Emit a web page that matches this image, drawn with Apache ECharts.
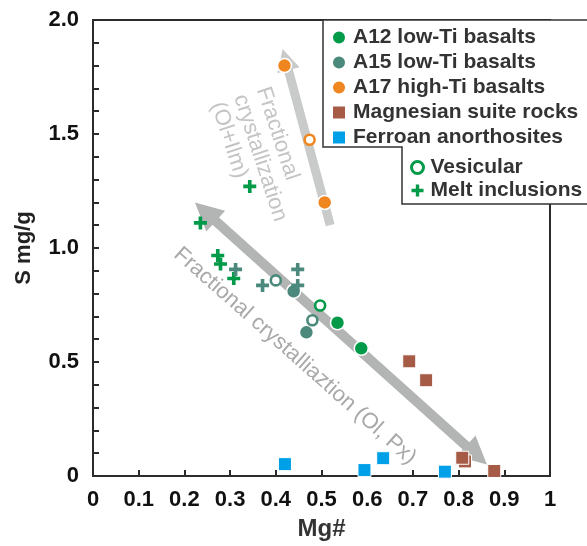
<!DOCTYPE html>
<html>
<head>
<meta charset="utf-8">
<script src="https://cdn.jsdelivr.net/npm/echarts@6/dist/echarts.min.js"></script>
<style>
  html, body { margin: 0; padding: 0; background: #fff; }
  #chart { width: 587px; height: 546px; }
</style>
</head>
<body>
<div id="chart"></div>
<script>
// data: [Mg#, S mg/g]
const a12Basalt = [[0.535, 0.672], [0.587, 0.56]]
const a12Vesicular = [[0.497, 0.748]]
const a12Melt = [[0.343, 1.27], [0.235, 1.11], [0.273, 0.967], [0.279, 0.93], [0.308, 0.866]]
const a15Basalt = [[0.439, 0.81], [0.467, 0.63]]
const a15Vesicular = [[0.40, 0.858], [0.48, 0.683]]
const a15Melt = [[0.312, 0.906], [0.371, 0.836], [0.448, 0.906], [0.448, 0.836]]
const a17Basalt = [[0.419, 1.80], [0.507, 1.20]]
const a17Vesicular = [[0.474, 1.475]]
const magnesian = [[0.692, 0.503], [0.729, 0.42], [0.814, 0.064], [0.808, 0.08], [0.878, 0.022]]
const ferroan = [[0.42, 0.052], [0.635, 0.078], [0.594, 0.026], [0.77, 0.019]]

// trend arrows, tail -> head
const arrowOlPx = [[0.862, 0.05], [0.223, 1.20]]
const arrowOlIlm = [[0.519, 1.10], [0.415, 1.873]]

const xTicks = ['0', '0.1', '0.2', '0.3', '0.4', '0.5', '0.6', '0.7', '0.8', '0.9', '1']
const yTicks = ['0', '0.5', '1.0', '1.5', '2.0']

const GREEN = '#009a48', TEAL = '#4a897b', ORANGE = '#f08620', BROWN = '#a55b46', BLUE = '#00a0e8'
const FONT = "'Liberation Sans', Arial, sans-serif"
const PLUS = 'path://M3.6,0H6.4V3.6H10V6.4H6.4V10H3.6V6.4H0V3.6H3.6Z'

function arrowSeries(pts, color, double, w, headLen, headHalf) {
  return {
    type: 'custom',
    silent: true,
    coordinateSystem: 'cartesian2d',
    encode: { x: [0, 2], y: [1, 3] },
    data: [[pts[0][0], pts[0][1], pts[1][0], pts[1][1]]],
    renderItem: function (params, api) {
      const p0 = api.coord([api.value(0), api.value(1)])
      const p1 = api.coord([api.value(2), api.value(3)])
      const dx = p1[0] - p0[0], dy = p1[1] - p0[1]
      const len = Math.sqrt(dx * dx + dy * dy)
      const u = [dx / len, dy / len], n = [-u[1], u[0]]
      const at = (p, a, b) => [p[0] + u[0] * a + n[0] * b, p[1] + u[1] * a + n[1] * b]
      let points
      if (double) {
        points = [p0, at(p0, headLen, headHalf), at(p0, headLen, w), at(p1, -headLen, w), at(p1, -headLen, headHalf), p1,
          at(p1, -headLen, -headHalf), at(p1, -headLen, -w), at(p0, headLen, -w), at(p0, headLen, -headHalf)]
      } else {
        points = [at(p0, 0, w), at(p1, -headLen, w), at(p1, -headLen, headHalf), p1,
          at(p1, -headLen, -headHalf), at(p1, -headLen, -w), at(p0, 0, -w)]
      }
      return { type: 'polygon', shape: { points: points }, style: { fill: color } }
    }
  }
}

const filled = (c) => ({ color: c, borderColor: '#fff', borderWidth: 1.5, opacity: 1 })
const colored = (arr, c) => arr.map(p => ({ value: p, itemStyle: { color: '#fff', borderColor: c } }))
const coloredPlus = (arr, c) => arr.map(p => ({ value: p, itemStyle: { color: c } }))

const legendText = { fontSize: 21, fontWeight: 'bold', color: '#333', fontFamily: FONT, lineHeight: 20, padding: [0, 0, 0, 2] }

const option = {
  animation: false,
  grid: { left: 93, right: 37, top: 20, bottom: 66, show: true, borderColor: '#2b2b2b', borderWidth: 2 },
  xAxis: {
    type: 'value', min: 0, max: 1, interval: 0.1,
    name: 'Mg#', nameLocation: 'middle', nameGap: 41,
    nameTextStyle: { fontSize: 24, fontWeight: 'bold', color: '#333', fontFamily: FONT },
    axisLine: { show: true, lineStyle: { color: '#2b2b2b', width: 2 } },
    axisTick: { show: true, inside: true, length: 6, lineStyle: { color: '#2b2b2b', width: 2 } },
    splitLine: { show: false },
    axisLabel: {
      margin: 13, fontSize: 22, fontWeight: 'bold', color: '#111', fontFamily: FONT, showMaxLabel: true,
      formatter: v => xTicks[Math.round(v * 10)]
    }
  },
  yAxis: {
    type: 'value', min: 0, max: 2, interval: 0.5,
    name: 'S mg/g', nameLocation: 'middle', nameGap: 58,
    nameTextStyle: { fontSize: 22, fontWeight: 'bold', color: '#222', fontFamily: FONT },
    axisLine: { show: true, lineStyle: { color: '#2b2b2b', width: 2 } },
    axisTick: { show: true, inside: true, length: 6, lineStyle: { color: '#2b2b2b', width: 2 } },
    minorTick: { show: true, splitNumber: 5, length: 6, lineStyle: { color: '#2b2b2b', width: 2 } },
    splitLine: { show: false },
    axisLabel: {
      margin: 14, fontSize: 22, fontWeight: 'bold', color: '#111', fontFamily: FONT,
      formatter: v => yTicks[Math.round(v * 2)]
    }
  },
  legend: [
    {
      data: ['A12 low-Ti basalts', 'A15 low-Ti basalts', 'A17 high-Ti basalts', 'Magnesian suite rocks', 'Ferroan anorthosites'],
      orient: 'vertical', left: 326, top: 22, itemWidth: 14, itemHeight: 14, itemGap: 4,
      selectedMode: false, textStyle: legendText, z: 10
    },
    {
      data: [
        { name: 'Vesicular', itemStyle: { borderWidth: 3 } },
        'Melt inclusions'
      ],
      orient: 'vertical', left: 405, top: 152, itemWidth: 12, itemHeight: 12, itemGap: 2,
      selectedMode: false, textStyle: legendText, z: 10
    }
  ],
  graphic: [
    {
      type: 'polygon', z: 5, silent: true,
      shape: { points: [[323, 20], [600, 20], [600, 204], [402, 204], [402, 147], [323, 147]] },
      style: { fill: '#fff', stroke: '#333', lineWidth: 1.5 }
    },
    {
      type: 'text', x: 274, y: 84, rotation: -72 * Math.PI / 180, z: 1, silent: true,
      style: {
        text: 'Fractional\ncrystallization\n(Ol+Ilm)', fontSize: 22, fontFamily: FONT, fill: '#c4c4c4',
        align: 'left', verticalAlign: 'top', lineHeight: 24
      }
    },
    {
      type: 'text', x: 295, y: 356, rotation: -41.5 * Math.PI / 180, z: 1, silent: true,
      style: {
        text: 'Fractional crystalliaztion (Ol, Px)', fontSize: 22, fontFamily: FONT, fill: '#a9a9a9',
        align: 'center', verticalAlign: 'middle'
      }
    }
  ],
  series: [
    arrowSeries(arrowOlIlm, '#c9caca', false, 4.5, 22, 11.5),
    arrowSeries(arrowOlPx, '#b3b4b4', true, 5, 28, 14),
    { name: 'A12 low-Ti basalts', type: 'scatter', symbol: 'circle', symbolSize: 14, itemStyle: filled(GREEN), data: a12Basalt },
    { name: 'A15 low-Ti basalts', type: 'scatter', symbol: 'circle', symbolSize: 14, itemStyle: filled(TEAL), data: a15Basalt },
    { name: 'A17 high-Ti basalts', type: 'scatter', symbol: 'circle', symbolSize: 14, itemStyle: filled(ORANGE), data: a17Basalt },
    { name: 'Magnesian suite rocks', type: 'scatter', symbol: 'rect', symbolSize: 13, itemStyle: { color: BROWN, borderColor: '#fff', borderWidth: 1, opacity: 1 }, data: magnesian },
    { name: 'Ferroan anorthosites', type: 'scatter', symbol: 'rect', symbolSize: 13, itemStyle: { color: BLUE, borderColor: '#fff', borderWidth: 1, opacity: 1 }, data: ferroan },
    {
      name: 'Vesicular', type: 'scatter', symbol: 'circle', symbolSize: 10,
      itemStyle: { color: '#fff', borderColor: GREEN, borderWidth: 2.6, opacity: 1 },
      data: colored(a12Vesicular, GREEN).concat(colored(a15Vesicular, TEAL), colored(a17Vesicular, ORANGE))
    },
    {
      name: 'Melt inclusions', type: 'scatter', symbol: PLUS, symbolSize: 13,
      itemStyle: { color: GREEN, opacity: 1 },
      data: coloredPlus(a12Melt, GREEN).concat(coloredPlus(a15Melt, TEAL))
    }
  ]
}

const chart = echarts.init(document.getElementById('chart'))
chart.setOption(option)
</script>
</body>
</html>
